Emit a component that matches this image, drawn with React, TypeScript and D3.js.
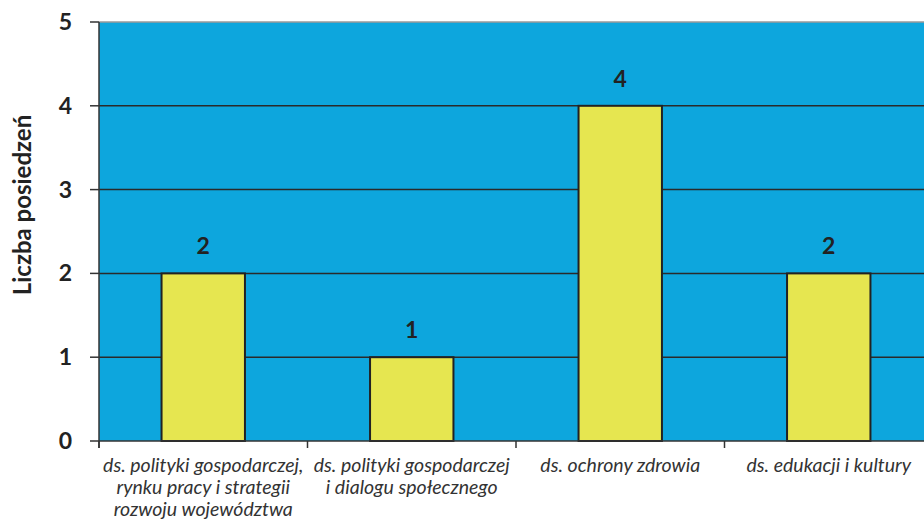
import React from "react";
import * as d3 from "d3";

const categories = [
  ["ds. polityki gospodarczej,", "rynku pracy i strategii", "rozwoju województwa"],
  ["ds. polityki gospodarczej", "i dialogu społecznego"],
  ["ds. ochrony zdrowia"],
  ["ds. edukacji i kultury"],
];
const categoryKeys = ["c1", "c2", "c3", "c4"];
const values = [2, 1, 4, 2];
const yTicks = [0, 1, 2, 3, 4, 5];
const yTitle = "Liczba posiedzeń";

export default function App() {
  const W = 924, H = 525;
  const left = 99, right = 933, top = 22, bottom = 441;
  const x = d3.scaleBand<string>().domain(categoryKeys).range([left, right]).paddingInner(0.6).paddingOuter(0.3);
  const y = d3.scaleLinear().domain([0, 5]).range([bottom, top]);
  const step = x.step();
  const font = "Lato, 'Open Sans', sans-serif";
  return (
    <svg width={W} height={H} style={{ position: "absolute", left: 0, top: 0 }}>
      <rect x={left} y={top} width={right - left} height={bottom - top} fill="#0DA6DD" />
      {yTicks.map((t) => (
        <g key={t}>
          {t > 0 && (
            <line x1={left} x2={right} y1={y(t)} y2={y(t)} stroke={t === 5 ? "#9a9a9a" : "#2a2a2a"} strokeWidth={1.5} />
          )}
          <line x1={left - 9} x2={left} y1={y(t)} y2={y(t)} stroke="#333" strokeWidth={1.5} />
          <text x={72} y={y(t) + 8} textAnchor="end" fontFamily={font} fontWeight="bold" fontSize={23} fill="#222">
            {t}
          </text>
        </g>
      ))}
      {categoryKeys.map((k, i) => (
        <g key={k}>
          <rect
            x={x(k)!}
            y={y(values[i])}
            width={x.bandwidth()}
            height={y(0) - y(values[i])}
            fill="#E6E650"
            stroke="#222"
            strokeWidth={2}
          />
          <text
            x={x(k)! + x.bandwidth() / 2}
            y={y(values[i]) - 19}
            textAnchor="middle"
            fontFamily={font}
            fontWeight="bold"
            fontSize={23}
            fill="#222"
          >
            {values[i]}
          </text>
          {categories[i].map((line, j) => (
            <text
              key={j}
              x={x(k)! + x.bandwidth() / 2}
              y={472 + j * 22}
              textAnchor="middle"
              fontFamily={font}
              fontStyle="italic"
              fontSize={19.5}
              fill="#333"
            >
              {line}
            </text>
          ))}
        </g>
      ))}
      {d3.range(5).map((i) => (
        <line key={i} x1={left + i * step} x2={left + i * step} y1={bottom} y2={bottom + 7} stroke="#333" strokeWidth={1.5} />
      ))}
      <line x1={left} x2={right} y1={bottom} y2={bottom} stroke="#333" strokeWidth={1.5} />
      <line x1={left} x2={left} y1={top} y2={bottom + 7} stroke="#333" strokeWidth={1.5} />
      <text
        transform={`translate(31, 205) rotate(-90)`}
        textAnchor="middle"
        fontFamily={font}
        fontWeight="bold"
        fontSize={24}
        fill="#222"
      >
        {yTitle}
      </text>
    </svg>
  );
}
